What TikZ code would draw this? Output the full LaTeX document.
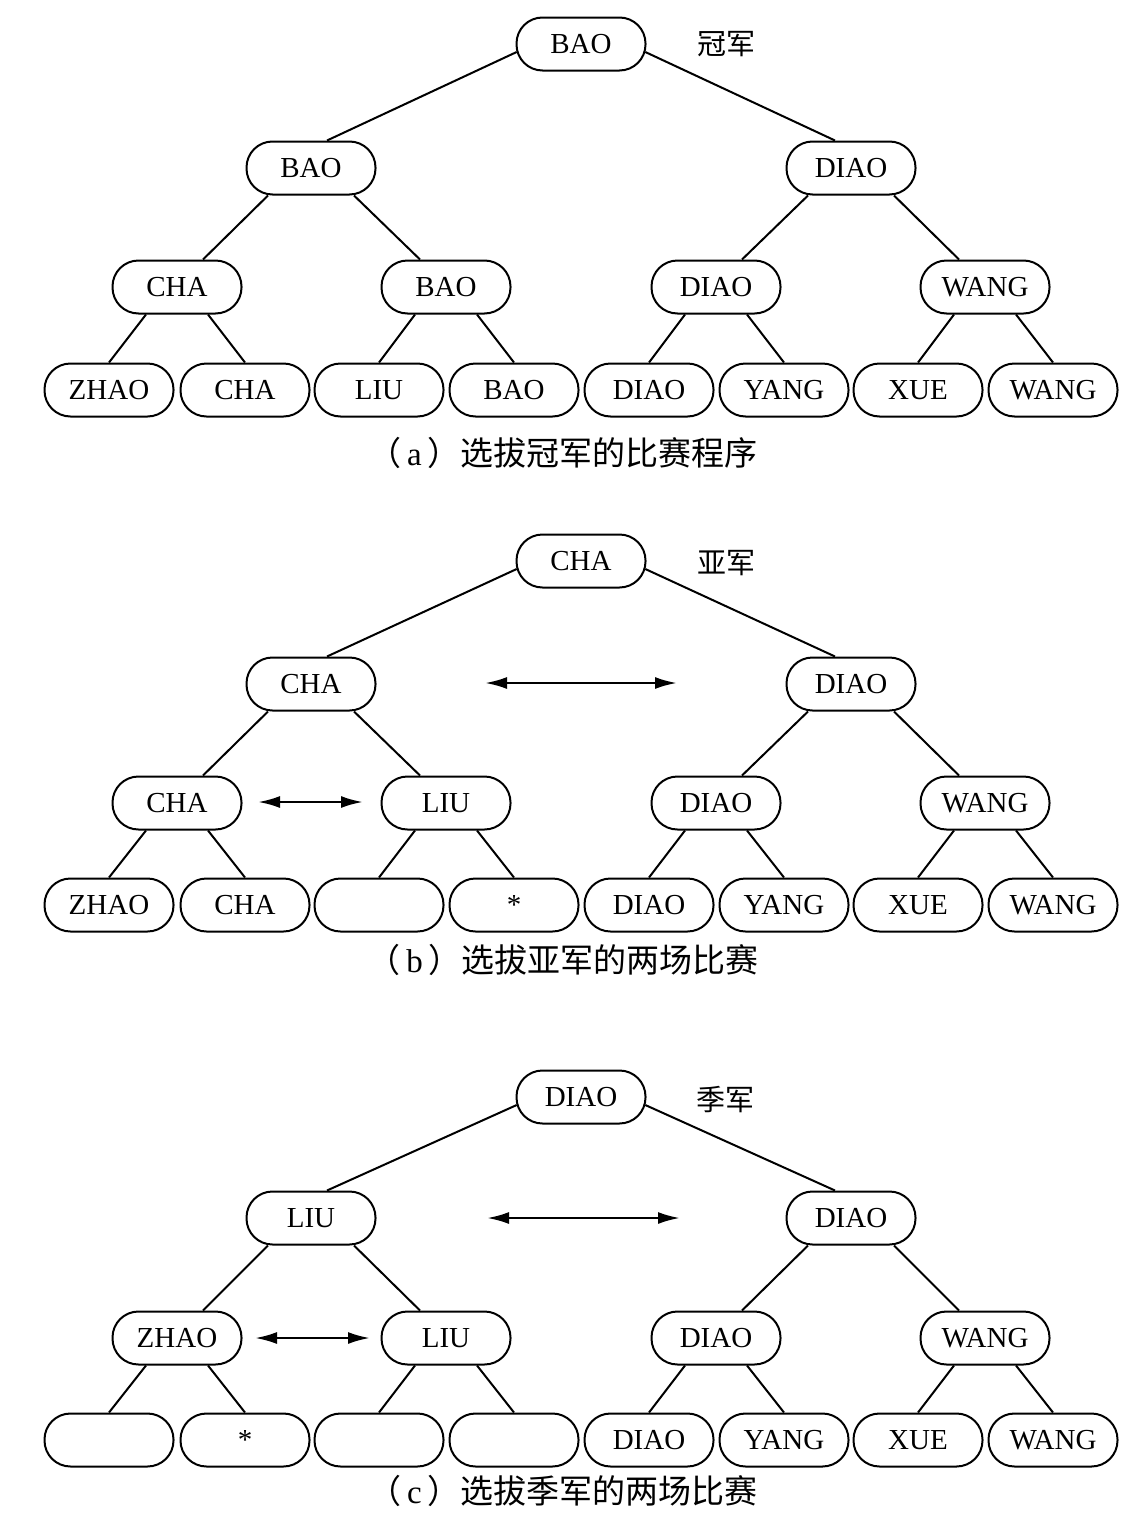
\documentclass[tikz,border=0pt]{standalone}
\usepackage{fontspec}
\setmainfont{Liberation Serif}
\newfontfamily\cjk{Noto Sans CJK SC}
\usetikzlibrary{calc,arrows.meta}
\newcommand\nodefont{\fontsize{29}{32}\selectfont}
\newcommand\capfont{\fontsize{33}{36}\selectfont}
\newcommand\treeconns[1]{%
  \draw[conn] ($(#1-r.west)+(1.2,8)$) -- ($(#1-b1.north)+(16,0)$);
  \draw[conn] ($(#1-r.east)+(-1.2,8)$) -- ($(#1-b2.north)+(-16,0)$);
  \foreach \p/\c/\s in {b1/c1/1, b1/c2/-1, b2/c3/1, b2/c4/-1} {
    \draw[conn] ($(#1-\p.south)+({-43*\s},0)$) -- ($(#1-\c.north)+({26*\s},0)$);
  }
  \foreach \p/\c/\s in {c1/d1/1, c1/d2/-1, c2/d3/1, c2/d4/-1, c3/d5/1, c3/d6/-1, c4/d7/1, c4/d8/-1} {
    \draw[conn] ($(#1-\p.south)+({-31*\s},0)$) -- (#1-\c.north);
  }
}
\newcommand\capline[2]{{\cjk （}\hspace{6pt}#1\hspace{6pt}{\cjk ）#2}}
\begin{document}
\begin{tikzpicture}[x=1pt,y=-1pt,
  pill/.style={draw, line width=2pt, rounded corners=26pt, minimum width=129pt, minimum height=53pt, inner sep=0pt, font=\nodefont},
  conn/.style={line width=2pt},
  dbl/.style={line width=2.5pt, {Latex[length=22pt,width=12pt]}-{Latex[length=22pt,width=12pt]}},
  lab/.style={font=\cjk\fontsize{29}{32}\selectfont, inner sep=0pt},
  captext/.style={font=\capfont, inner sep=0pt}]
\useasboundingbox (0,0) rectangle (1148,1539);

% ---------- tree (a) ----------
\node[pill] (a-r) at (581,44) {BAO};
\node[pill] (a-b1) at (311,168) {BAO};
\node[pill] (a-b2) at (851,168) {DIAO};
\node[pill] (a-c1) at (177,287) {CHA};
\node[pill] (a-c2) at (446,287) {BAO};
\node[pill] (a-c3) at (716,287) {DIAO};
\node[pill] (a-c4) at (985,287) {WANG};
\foreach \x/\t [count=\i] in {109/ZHAO,245/CHA,379/LIU,514/BAO,649/DIAO,784/YANG,918/XUE,1053/WANG}
  \node[pill] (a-d\i) at (\x,390) {\t};
\treeconns{a}
\node[lab] (a-lab) at (726,44) {冠军};
\node[captext] (a-cap) at (563,453) {\capline{a}{选拔冠军的比赛程序}};

% ---------- tree (b) ----------
\node[pill] (b-r) at (581,561) {CHA};
\node[pill] (b-b1) at (311,684) {CHA};
\node[pill] (b-b2) at (851,684) {DIAO};
\node[pill] (b-c1) at (177,803) {CHA};
\node[pill] (b-c2) at (446,803) {LIU};
\node[pill] (b-c3) at (716,803) {DIAO};
\node[pill] (b-c4) at (985,803) {WANG};
\foreach \x/\t [count=\i] in {109/ZHAO,245/CHA,379/{},514/*,649/DIAO,784/YANG,918/XUE,1053/WANG}
  \node[pill] (b-d\i) at (\x,905) {\t};
\treeconns{b}
\node[lab] (b-lab) at (726,563) {亚军};
\coordinate (b-a1l) at (485,683);
\coordinate (b-a1r) at (677,683);
\draw[dbl] (b-a1l) -- (b-a1r);
\coordinate (b-a2l) at (258,802);
\coordinate (b-a2r) at (363,802);
\draw[dbl] (b-a2l) -- (b-a2r);
\node[captext] (b-cap) at (563,960) {\capline{b}{选拔亚军的两场比赛}};

% ---------- tree (c) ----------
\node[pill] (c-r) at (581,1097) {DIAO};
\node[pill] (c-b1) at (311,1218) {LIU};
\node[pill] (c-b2) at (851,1218) {DIAO};
\node[pill] (c-c1) at (177,1338) {ZHAO};
\node[pill] (c-c2) at (446,1338) {LIU};
\node[pill] (c-c3) at (716,1338) {DIAO};
\node[pill] (c-c4) at (985,1338) {WANG};
\foreach \x/\t [count=\i] in {109/{},245/*,379/{},514/{},649/DIAO,784/YANG,918/XUE,1053/WANG}
  \node[pill] (c-d\i) at (\x,1440) {\t};
\treeconns{c}
\node[lab] (c-lab) at (725,1100) {季军};
\coordinate (c-a1l) at (487,1218);
\coordinate (c-a1r) at (680,1218);
\draw[dbl] (c-a1l) -- (c-a1r);
\coordinate (c-a2l) at (255,1338);
\coordinate (c-a2r) at (370,1338);
\draw[dbl] (c-a2l) -- (c-a2r);
\node[captext] (c-cap) at (563,1491) {\capline{c}{选拔季军的两场比赛}};
\end{tikzpicture}
\end{document}
